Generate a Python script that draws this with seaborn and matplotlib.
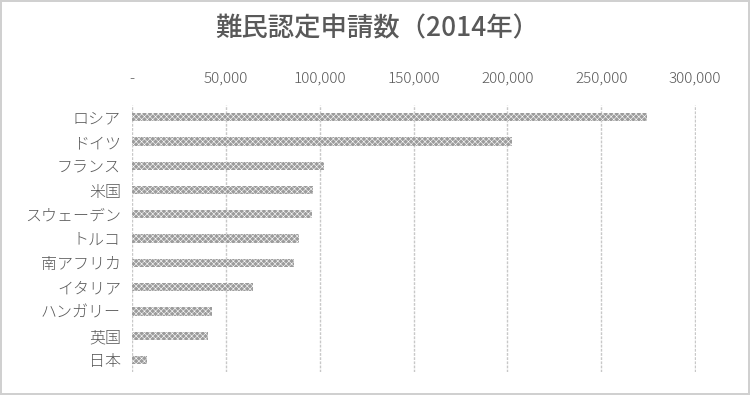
import matplotlib
matplotlib.use("Agg")
import matplotlib.pyplot as plt
import seaborn as sns
import pandas as pd
from matplotlib.ticker import FuncFormatter

# -------------------------------------------------
# Data
# -------------------------------------------------
countries = ["ロシア", "ドイツ", "フランス", "米国", "スウェーデン", "トルコ",
             "南アフリカ", "イタリア", "ハンガリー", "英国", "日本"]
applications = [274400, 202700, 102100, 96300, 95700, 88800,
                86300, 64300, 42600, 40400, 7800]
xticks = [0, 50000, 100000, 150000, 200000, 250000, 300000]

df = pd.DataFrame({"country": countries, "applications": applications})

sns.set_theme(style="white")
plt.rcParams["font.family"] = ["Noto Sans CJK JP", "DejaVu Sans"]
plt.rcParams["hatch.color"] = "#b2b2b2"
plt.rcParams["hatch.linewidth"] = 0.4

fig = plt.figure(figsize=(7.5, 3.95), dpi=100, linewidth=1.5, edgecolor="#d0d0d0")
ax = fig.add_axes([0.176, 0.058, 0.752, 0.676])

sns.barplot(data=df, x="applications", y="country", orient="h",
            color="#9c9c9c", width=0.34, saturation=1, ax=ax)
for p in ax.patches:
    p.set_hatch("xxxxxx")
    p.set_linewidth(0)

ax.set_xlim(0, 300500)
ax.set_xticks(xticks)
ax.xaxis.set_major_formatter(FuncFormatter(lambda v, _: "-" if v == 0 else f"{int(v):,}"))
ax.xaxis.tick_top()
ax.grid(axis="x", color="#c8c8c8", linestyle=(0, (2, 1)), linewidth=1)
ax.set_axisbelow(True)
for s in ax.spines.values():
    s.set_visible(False)
ax.tick_params(axis="x", length=0, pad=14, labelsize=11, labelcolor="#595959")
ax.tick_params(axis="y", length=0, pad=8, labelsize=11.5, labelcolor="#595959")
for lab in ax.get_xticklabels() + ax.get_yticklabels():
    lab.set_fontweight("light")
ax.set_xlabel("")
ax.set_ylabel("")

fig.suptitle("難民認定申請数（2014年）", x=0.503, y=0.96, fontsize=19,
             fontweight="medium", color="#595959")

fig.savefig("out.png", dpi=100)
